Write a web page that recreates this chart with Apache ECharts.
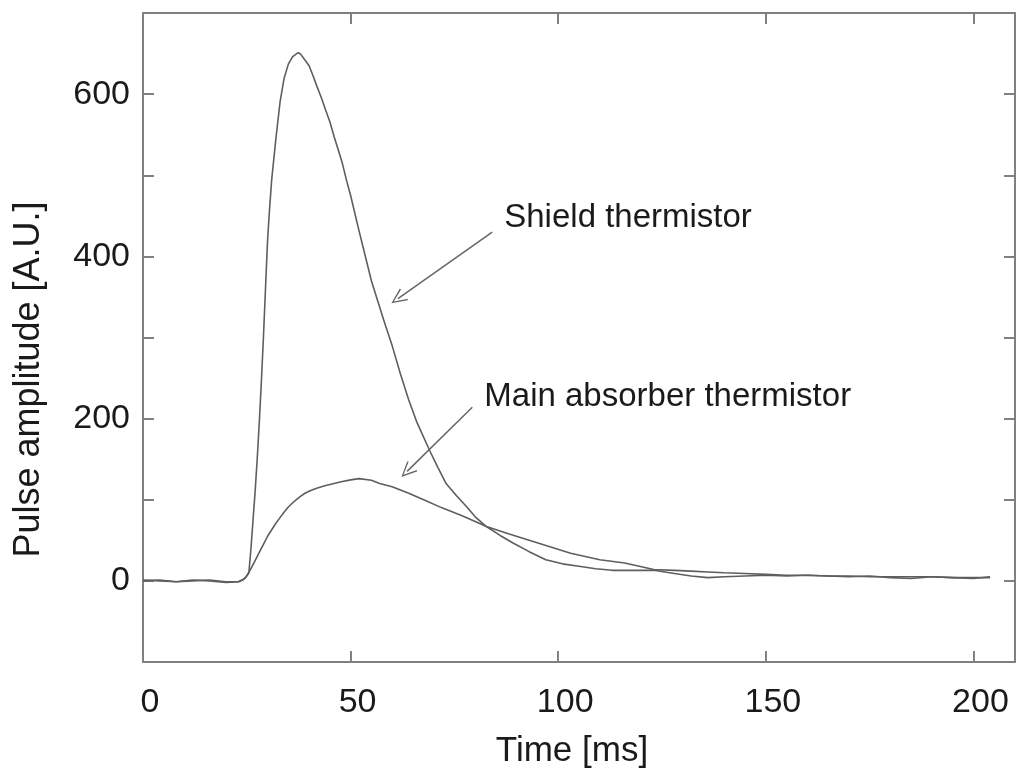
<!DOCTYPE html>
<html>
<head>
<meta charset="utf-8">
<title>Pulse amplitude</title>
<script src="https://cdn.jsdelivr.net/npm/echarts@6/dist/echarts.min.js"></script>
<style>
  html, body { margin: 0; padding: 0; background: #fff; }
  #chart { width: 1018px; height: 774px; }
</style>
</head>
<body>
<div id="chart"></div>
<script>
// shield thermistor pulse (time in ms, amplitude in A.U.)
const shieldTime = [0, 4, 8, 12, 16, 20, 23, 24.5, 25.5, 26, 26.5, 27, 27.5, 28, 28.5, 29, 29.5, 30, 30.5, 31, 32, 33, 34, 35, 36, 37, 37.5, 38, 39, 40, 41, 42, 43, 44, 45, 46, 48, 49, 50, 52, 55, 58, 60, 62, 64, 66, 69, 71, 73, 75.5, 78, 80, 82.7, 86, 89, 93, 97, 101, 105, 109, 113, 118, 123, 128, 132, 136, 140, 145, 150, 155, 160, 165, 170, 175, 180, 185, 190, 195, 200, 204];
const shieldValue = [1, 0, -1, 1, 0, -2, -1, 3, 10, 40, 75, 110, 150, 195, 245, 300, 360, 420, 460, 495, 545, 590, 620, 637, 646, 650, 651, 649, 642, 635, 622, 608, 595, 580, 566, 548, 515, 494, 475, 432, 370, 321, 290, 255, 223, 195, 161, 140, 120, 105, 91, 79, 67, 56, 47, 36, 26, 21, 18, 15, 13, 13, 13, 9, 6, 4, 5, 6, 7, 6, 7, 6, 5, 6, 4, 3, 5, 4, 3, 5];

// main absorber thermistor pulse
const mainTime = [0, 4, 8, 12, 16, 20, 23, 24, 25, 26, 27, 28, 29, 30, 31, 32, 33, 34, 35, 36, 37, 38, 39, 40, 41, 42, 44, 46, 48, 50, 52, 55, 57, 60, 64, 68, 72, 77, 82.7, 88, 93, 98, 103, 110, 116, 123, 128, 132, 136, 140, 145, 150, 155, 160, 165, 170, 175, 180, 185, 190, 195, 200, 204];
const mainValue = [0, 1, -1, 0, 1, -1, -1, 1, 6, 15, 25, 35, 45, 55, 63, 71, 78, 85, 91, 96, 100.5, 104.5, 108, 110.5, 112.5, 114.5, 117.5, 120, 122.5, 124.5, 126, 124, 120, 116, 108, 99, 90, 80, 67, 58, 50, 42, 34, 26, 22, 14, 13, 12, 11, 10, 9, 8, 7, 7, 6, 6, 5, 5, 5, 5, 4, 4, 4];

const yLabels = [0, 200, 400, 600];
const xLabels = [0, 50, 100, 150, 200];

const FONT = "'Liberation Sans', Arial, Helvetica, sans-serif";
const frameColor = '#808080';
const lineColor = '#5e5e5e';
const textColor = '#1a1a1a';

const toPairs = (ts, vs) => ts.map((t, i) => [t, vs[i]]);

// open chevron arrow head
const arrowHead = 'path://M0,0 L6,12 L5,12.8 L0,2.4 L-5,12.8 L-6,12 Z';

const frameAxis = {
  axisLine: { show: true, onZero: false, lineStyle: { color: frameColor, width: 2 } },
  axisTick: { show: true, inside: true, length: 11, lineStyle: { color: frameColor, width: 2 } },
  splitLine: { show: false },
};

const annotationLabel = (text) => ({
  show: true,
  position: 'right',
  distance: 0,
  formatter: text,
  fontFamily: FONT,
  fontSize: 33,
  color: textColor,
});

const chart = echarts.init(document.getElementById('chart'), null, { renderer: 'canvas' });

chart.setOption({
  backgroundColor: '#ffffff',
  animation: false,
  grid: { left: 143, top: 13, right: 2, bottom: 112 },
  xAxis: [
    {
      ...frameAxis,
      type: 'value',
      min: 0,
      max: 210,
      interval: 50,
      name: 'Time [ms]',
      nameLocation: 'middle',
      nameGap: 72,
      nameTextStyle: { fontFamily: FONT, fontSize: 35, color: textColor, padding: [0, 14, 0, 0] },
      axisLabel: {
        margin: 24,
        fontFamily: FONT,
        fontSize: 34,
        color: textColor,
        padding: [0, 0, 0, 14],
        formatter: (v) => (xLabels.includes(v) ? String(v) : ''),
      },
    },
    {
      ...frameAxis,
      type: 'value',
      position: 'top',
      min: 0,
      max: 210,
      interval: 50,
      axisLabel: { show: false },
    },
  ],
  yAxis: [
    {
      ...frameAxis,
      type: 'value',
      min: -100,
      max: 700,
      interval: 100,
      name: 'Pulse amplitude [A.U.]',
      nameLocation: 'middle',
      nameGap: 96,
      nameRotate: 90,
      nameTextStyle: { fontFamily: FONT, fontSize: 36, color: textColor, padding: [0, 84, 0, 0] },
      axisLabel: {
        margin: 13,
        fontFamily: FONT,
        fontSize: 34,
        color: textColor,
        formatter: (v) => (yLabels.includes(v) ? String(v) : ''),
      },
    },
    {
      ...frameAxis,
      type: 'value',
      position: 'right',
      min: -100,
      max: 700,
      interval: 100,
      axisLabel: { show: false },
    },
  ],
  series: [
    {
      name: 'Shield thermistor',
      type: 'line',
      data: toPairs(shieldTime, shieldValue),
      showSymbol: false,
      lineStyle: { color: lineColor, width: 1.6 },
      markLine: {
        silent: true,
        symbol: ['none', arrowHead],
        symbolSize: [14, 16],
        lineStyle: { color: '#666', width: 1.5, type: 'solid' },
        label: { show: false },
        data: [[{ coord: [84.1, 430] }, { coord: [61.4, 348] }]],
      },
      markPoint: {
        silent: true,
        symbol: 'circle',
        symbolSize: 0,
        label: annotationLabel('Shield thermistor'),
        data: [{ coord: [87, 447] }],
      },
    },
    {
      name: 'Main absorber thermistor',
      type: 'line',
      data: toPairs(mainTime, mainValue),
      showSymbol: false,
      lineStyle: { color: lineColor, width: 1.6 },
      markLine: {
        silent: true,
        symbol: ['none', arrowHead],
        symbolSize: [14, 16],
        lineStyle: { color: '#666', width: 1.5, type: 'solid' },
        label: { show: false },
        data: [[{ coord: [79.3, 214] }, { coord: [63.6, 135] }]],
      },
      markPoint: {
        silent: true,
        symbol: 'circle',
        symbolSize: 0,
        label: annotationLabel('Main absorber thermistor'),
        data: [{ coord: [82.2, 227] }],
      },
    },
  ],
});
</script>
</body>
</html>
